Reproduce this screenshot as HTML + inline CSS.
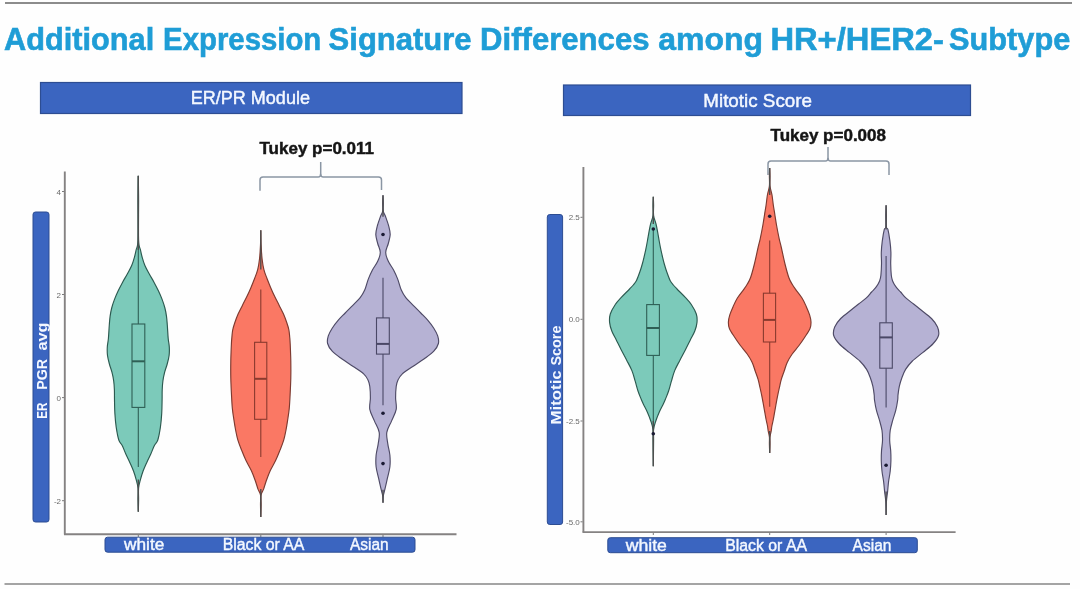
<!DOCTYPE html>
<html><head><meta charset="utf-8"><style>
html,body{margin:0;padding:0;background:#fff;width:1080px;height:589px;overflow:hidden}
svg{display:block;filter:blur(0.45px)}
text{font-family:"Liberation Sans",sans-serif}
</style></head><body>
<svg width="1080" height="589" viewBox="0 0 1080 589">
<rect width="1080" height="589" fill="#fefefe"/>
<line x1="5" y1="3" x2="1072" y2="3" stroke="#8c8c8c" stroke-width="2"/>
<line x1="4.5" y1="584" x2="1070" y2="584" stroke="#a4a4a4" stroke-width="2.2"/>
<g font-size="31" font-weight="bold" fill="#1f9dd6" stroke="#1f9dd6" stroke-width="0.6"><text x="4.1" y="49.8" textLength="150.1" lengthAdjust="spacingAndGlyphs">Additional</text><text x="163.1" y="49.8" textLength="158.2" lengthAdjust="spacingAndGlyphs">Expression</text><text x="328.6" y="49.8" textLength="143.0" lengthAdjust="spacingAndGlyphs">Signature</text><text x="480.1" y="49.8" textLength="169.4" lengthAdjust="spacingAndGlyphs">Differences</text><text x="658.3" y="49.8" textLength="104.6" lengthAdjust="spacingAndGlyphs">among</text><text x="770.4" y="49.8" textLength="173.5" lengthAdjust="spacingAndGlyphs">HR+/HER2-</text><text x="949.1" y="49.8" textLength="121.2" lengthAdjust="spacingAndGlyphs">Subtype</text></g>

<rect x="40.5" y="82.5" width="421.5" height="31" fill="#3b65c0" stroke="#2d4d92" stroke-width="1.2"/>
<text x="190.7" y="103.7" font-size="18" fill="#f4f8ff" stroke="#f4f8ff" stroke-width="0.45" textLength="119.3" lengthAdjust="spacingAndGlyphs">ER/PR Module</text>
<rect x="563.5" y="85" width="407" height="30.5" fill="#3b65c0" stroke="#2d4d92" stroke-width="1.2"/>
<text x="703.3" y="107" font-size="18.5" fill="#f4f8ff" stroke="#f4f8ff" stroke-width="0.45" textLength="108.7" lengthAdjust="spacingAndGlyphs">Mitotic Score</text>

<text x="259.5" y="154" font-size="16.5" font-weight="bold" fill="#151515" stroke="#151515" stroke-width="0.45" textLength="114.5" lengthAdjust="spacingAndGlyphs">Tukey p=0.011</text>
<text x="770.5" y="141.3" font-size="16.5" font-weight="bold" fill="#151515" stroke="#151515" stroke-width="0.45" textLength="115.5" lengthAdjust="spacingAndGlyphs">Tukey p=0.008</text>

<path d="M260,190.7 L260,180 Q260,177 263,177 L318.2,177 Q320.7,177 320.7,173.5 L320.7,162 M320.7,173.5 Q320.7,177 323.2,177 L378.5,177 Q381.5,177 381.5,180 L381.5,190" fill="none" stroke="#8a96a4" stroke-width="1.5"/>
<path d="M768,175 L768,164 Q768,161 771,161 L825.5,161 Q828,161 828,157.5 L828,147 M828,157.5 Q828,161 830.5,161 L886,161 Q889,161 889,164 L889,175" fill="none" stroke="#8a96a4" stroke-width="1.5"/>

<!-- plot1 axes -->
<line x1="64.8" y1="171.5" x2="64.8" y2="534.5" stroke="#858282" stroke-width="1.9"/>
<line x1="64" y1="534.2" x2="456.5" y2="534.2" stroke="#858282" stroke-width="1.9"/>
<g stroke="#7a7a7a" stroke-width="1"><line x1="62" y1="191.5" x2="64" y2="191.5"/><line x1="62" y1="294.5" x2="64" y2="294.5"/><line x1="62" y1="397.6" x2="64" y2="397.6"/><line x1="62" y1="500.7" x2="64" y2="500.7"/>
<line x1="138.3" y1="535" x2="138.3" y2="537"/><line x1="260.8" y1="535" x2="260.8" y2="537"/><line x1="383" y1="535" x2="383" y2="537"/></g>
<g font-size="8" fill="#6a6a6a" text-anchor="end"><text x="61" y="194.5">4</text><text x="61" y="297.5">2</text><text x="61" y="400.6">0</text><text x="61" y="503.7">-2</text></g>
<rect x="33" y="212" width="16" height="310" rx="2.5" fill="#3b65c0" stroke="#2d4d92" stroke-width="1"/>
<g transform="translate(47.4,0) rotate(-90)" font-size="15" font-weight="bold" fill="#f4f8ff"><text x="-418.7" y="0" textLength="16.2" lengthAdjust="spacingAndGlyphs">ER</text><text x="-389.8" y="0" textLength="30.9" lengthAdjust="spacingAndGlyphs">PGR</text><text x="-350.5" y="0" textLength="28" lengthAdjust="spacingAndGlyphs">avg</text></g>
<rect x="105" y="537.2" width="310" height="15" rx="2.5" fill="#3b65c0" stroke="#2d4d92" stroke-width="1"/>
<g font-size="16" fill="#f4f8ff" stroke="#f4f8ff" stroke-width="0.4"><text x="124" y="550.4" textLength="40.3" lengthAdjust="spacingAndGlyphs">white</text><text x="222.7" y="550.4" textLength="81.7" lengthAdjust="spacingAndGlyphs">Black or AA</text><text x="350" y="550.4" textLength="38.6" lengthAdjust="spacingAndGlyphs">Asian</text></g>

<!-- plot2 axes -->
<line x1="583.4" y1="167" x2="583.4" y2="532.5" stroke="#858282" stroke-width="1.9"/>
<line x1="582.6" y1="532.1" x2="955.6" y2="532.1" stroke="#858282" stroke-width="1.9"/>
<g stroke="#7a7a7a" stroke-width="1"><line x1="580.5" y1="217.3" x2="582.6" y2="217.3"/><line x1="580.5" y1="319.3" x2="582.6" y2="319.3"/><line x1="580.5" y1="421" x2="582.6" y2="421"/><line x1="580.5" y1="521.8" x2="582.6" y2="521.8"/>
<line x1="653.3" y1="533" x2="653.3" y2="535"/><line x1="769.7" y1="533" x2="769.7" y2="535"/><line x1="886.1" y1="533" x2="886.1" y2="535"/></g>
<g font-size="8" fill="#6a6a6a" text-anchor="end"><text x="579.8" y="220.3">2.5</text><text x="579.8" y="322.3">0.0</text><text x="579.8" y="424">-2.5</text><text x="579.8" y="524.8">-5.0</text></g>
<rect x="547.3" y="214.5" width="15.3" height="310" rx="2.5" fill="#3b65c0" stroke="#2d4d92" stroke-width="1"/>
<g transform="translate(561.2,0) rotate(-90)" font-size="15" font-weight="bold" fill="#f4f8ff"><text x="-424.5" y="0" textLength="54.2" lengthAdjust="spacingAndGlyphs">Mitotic</text><text x="-365.5" y="0" textLength="39.9" lengthAdjust="spacingAndGlyphs">Score</text></g>
<rect x="607.8" y="537.7" width="309.5" height="15" rx="2.5" fill="#3b65c0" stroke="#2d4d92" stroke-width="1"/>
<g font-size="16" fill="#f4f8ff" stroke="#f4f8ff" stroke-width="0.4"><text x="625.7" y="550.8" textLength="41.2" lengthAdjust="spacingAndGlyphs">white</text><text x="725.2" y="550.8" textLength="81.8" lengthAdjust="spacingAndGlyphs">Black or AA</text><text x="852.6" y="550.8" textLength="38.8" lengthAdjust="spacingAndGlyphs">Asian</text></g>

<path d="M138.30,175.70 C138.35,179.75 138.55,189.28 138.60,200.00 C138.65,210.72 138.28,231.67 138.60,240.00 C138.92,248.33 139.92,247.17 140.50,250.00 C141.08,252.83 141.37,254.42 142.10,257.00 C142.83,259.58 143.70,262.67 144.90,265.50 C146.10,268.33 147.77,271.18 149.30,274.00 C150.83,276.82 152.57,279.57 154.10,282.40 C155.63,285.23 157.17,288.17 158.50,291.00 C159.83,293.83 161.03,296.57 162.10,299.40 C163.17,302.23 164.17,305.17 164.90,308.00 C165.63,310.83 166.10,313.57 166.50,316.40 C166.90,319.23 167.02,321.32 167.30,325.00 C167.58,328.68 167.87,334.83 168.20,338.50 C168.53,342.17 169.15,344.17 169.30,347.00 C169.45,349.83 169.45,352.67 169.10,355.50 C168.75,358.33 167.95,361.18 167.20,364.00 C166.45,366.82 165.32,369.57 164.60,372.40 C163.88,375.23 163.30,378.07 162.90,381.00 C162.50,383.93 162.33,386.83 162.20,390.00 C162.07,393.17 162.18,396.07 162.10,400.00 C162.02,403.93 161.98,409.07 161.70,413.60 C161.42,418.13 161.05,422.80 160.40,427.20 C159.75,431.60 158.80,436.95 157.80,440.00 C156.80,443.05 155.57,443.17 154.40,445.50 C153.23,447.83 152.07,451.18 150.80,454.00 C149.53,456.82 148.08,459.57 146.80,462.40 C145.52,465.23 144.15,468.17 143.10,471.00 C142.05,473.83 141.25,476.57 140.50,479.40 C139.75,482.23 138.92,484.57 138.60,488.00 C138.28,491.43 138.65,496.05 138.60,500.00 C138.55,503.95 138.35,509.75 138.30,511.70 C138.25,509.75 138.05,503.95 138.00,500.00 C137.95,496.05 138.32,491.43 138.00,488.00 C137.68,484.57 136.85,482.23 136.10,479.40 C135.35,476.57 134.55,473.83 133.50,471.00 C132.45,468.17 131.08,465.23 129.80,462.40 C128.52,459.57 127.07,456.82 125.80,454.00 C124.53,451.18 123.37,447.83 122.20,445.50 C121.03,443.17 119.80,443.05 118.80,440.00 C117.80,436.95 116.85,431.60 116.20,427.20 C115.55,422.80 115.18,418.13 114.90,413.60 C114.62,409.07 114.58,403.93 114.50,400.00 C114.42,396.07 114.53,393.17 114.40,390.00 C114.27,386.83 114.10,383.93 113.70,381.00 C113.30,378.07 112.72,375.23 112.00,372.40 C111.28,369.57 110.15,366.82 109.40,364.00 C108.65,361.18 107.85,358.33 107.50,355.50 C107.15,352.67 107.15,349.83 107.30,347.00 C107.45,344.17 108.07,342.17 108.40,338.50 C108.73,334.83 109.02,328.68 109.30,325.00 C109.58,321.32 109.70,319.23 110.10,316.40 C110.50,313.57 110.97,310.83 111.70,308.00 C112.43,305.17 113.43,302.23 114.50,299.40 C115.57,296.57 116.77,293.83 118.10,291.00 C119.43,288.17 120.97,285.23 122.50,282.40 C124.03,279.57 125.77,276.82 127.30,274.00 C128.83,271.18 130.50,268.33 131.70,265.50 C132.90,262.67 133.77,259.58 134.50,257.00 C135.23,254.42 135.52,252.83 136.10,250.00 C136.68,247.17 137.68,248.33 138.00,240.00 C138.32,231.67 137.95,210.72 138.00,200.00 C138.05,189.28 138.25,179.75 138.30,175.70 Z" fill="#7ccaba" stroke="#2c5a50" stroke-width="1.15"/>
<line x1="138.3" y1="176" x2="138.3" y2="324" stroke="#2f5f55" stroke-width="1.1"/>
<line x1="138.3" y1="407.4" x2="138.3" y2="467" stroke="#2f5f55" stroke-width="1.1"/>
<rect x="132" y="324" width="12.80" height="83.40" fill="none" stroke="#2f5f55" stroke-width="1.1"/>
<line x1="132" y1="361.3" x2="144.8" y2="361.3" stroke="#2f5f55" stroke-width="2"/>
<line x1="138.3" y1="175.7" x2="138.3" y2="250" stroke="#4e4e4e" stroke-width="1.4"/>
<line x1="138.3" y1="479.4" x2="138.3" y2="511.7" stroke="#4e4e4e" stroke-width="1.4"/>
<path d="M260.80,230.20 C260.85,232.67 260.88,240.20 261.10,245.00 C261.32,249.80 261.63,254.90 262.10,259.00 C262.57,263.10 263.08,266.35 263.90,269.60 C264.72,272.85 265.88,275.53 267.00,278.50 C268.12,281.47 269.33,284.43 270.60,287.40 C271.87,290.37 273.18,293.33 274.60,296.30 C276.02,299.27 277.62,302.23 279.10,305.20 C280.58,308.17 282.20,311.13 283.50,314.10 C284.80,317.07 286.00,320.35 286.90,323.00 C287.80,325.65 288.43,327.67 288.90,330.00 C289.37,332.33 289.48,334.67 289.70,337.00 C289.92,339.33 290.02,340.00 290.20,344.00 C290.38,348.00 290.70,355.33 290.80,361.00 C290.90,366.67 290.92,372.33 290.80,378.00 C290.68,383.67 290.36,389.92 290.10,395.00 C289.84,400.08 289.67,404.27 289.25,408.50 C288.83,412.73 288.14,416.82 287.60,420.40 C287.06,423.98 286.65,426.70 286.00,430.00 C285.35,433.30 284.72,436.80 283.70,440.20 C282.68,443.60 281.25,447.00 279.90,450.40 C278.55,453.80 277.22,457.20 275.60,460.60 C273.98,464.00 271.77,467.40 270.20,470.80 C268.63,474.20 267.30,477.95 266.20,481.00 C265.10,484.05 264.45,486.77 263.60,489.10 C262.75,491.43 261.52,492.35 261.10,495.00 C260.68,497.65 261.15,501.33 261.10,505.00 C261.05,508.67 260.85,515.00 260.80,517.00 C260.75,515.00 260.55,508.67 260.50,505.00 C260.45,501.33 260.92,497.65 260.50,495.00 C260.08,492.35 258.85,491.43 258.00,489.10 C257.15,486.77 256.50,484.05 255.40,481.00 C254.30,477.95 252.97,474.20 251.40,470.80 C249.83,467.40 247.62,464.00 246.00,460.60 C244.38,457.20 243.05,453.80 241.70,450.40 C240.35,447.00 238.92,443.60 237.90,440.20 C236.88,436.80 236.25,433.30 235.60,430.00 C234.95,426.70 234.54,423.98 234.00,420.40 C233.46,416.82 232.77,412.73 232.35,408.50 C231.93,404.27 231.76,400.08 231.50,395.00 C231.24,389.92 230.92,383.67 230.80,378.00 C230.68,372.33 230.70,366.67 230.80,361.00 C230.90,355.33 231.22,348.00 231.40,344.00 C231.58,340.00 231.68,339.33 231.90,337.00 C232.12,334.67 232.23,332.33 232.70,330.00 C233.17,327.67 233.80,325.65 234.70,323.00 C235.60,320.35 236.80,317.07 238.10,314.10 C239.40,311.13 241.02,308.17 242.50,305.20 C243.98,302.23 245.58,299.27 247.00,296.30 C248.42,293.33 249.73,290.37 251.00,287.40 C252.27,284.43 253.48,281.47 254.60,278.50 C255.72,275.53 256.88,272.85 257.70,269.60 C258.52,266.35 259.03,263.10 259.50,259.00 C259.97,254.90 260.28,249.80 260.50,245.00 C260.72,240.20 260.75,232.67 260.80,230.20 Z" fill="#fa7864" stroke="#7d3a30" stroke-width="1.15"/>
<line x1="260.8" y1="289.6" x2="260.8" y2="342.3" stroke="#8a3a2e" stroke-width="1.1"/>
<line x1="260.8" y1="419.3" x2="260.8" y2="457" stroke="#8a3a2e" stroke-width="1.1"/>
<rect x="254.6" y="342.3" width="12.20" height="77.00" fill="none" stroke="#8a3a2e" stroke-width="1.1"/>
<line x1="254.6" y1="378.8" x2="266.8" y2="378.8" stroke="#8a3a2e" stroke-width="2"/>
<line x1="260.8" y1="230.2" x2="260.8" y2="269.6" stroke="#4e4e4e" stroke-width="1.4"/>
<line x1="260.8" y1="489.1" x2="260.8" y2="517" stroke="#4e4e4e" stroke-width="1.4"/>
<path d="M383.00,195.20 C383.05,196.50 383.25,200.37 383.30,203.00 C383.35,205.63 382.92,208.72 383.30,211.00 C383.68,213.28 384.72,214.25 385.60,216.70 C386.48,219.15 387.83,222.72 388.60,225.70 C389.37,228.68 390.25,231.63 390.20,234.60 C390.15,237.57 389.05,240.53 388.30,243.50 C387.55,246.47 385.70,249.43 385.70,252.40 C385.70,255.37 386.97,258.33 388.30,261.30 C389.63,264.27 392.13,267.23 393.70,270.20 C395.27,273.17 396.43,275.80 397.70,279.10 C398.97,282.40 399.95,286.92 401.30,290.00 C402.65,293.08 403.82,295.05 405.80,297.60 C407.78,300.15 410.70,302.73 413.20,305.30 C415.70,307.87 418.32,310.45 420.80,313.00 C423.28,315.55 425.93,318.07 428.10,320.60 C430.27,323.13 432.20,325.65 433.80,328.20 C435.40,330.75 436.93,333.35 437.70,335.90 C438.47,338.45 439.05,340.95 438.40,343.50 C437.75,346.05 436.15,348.65 433.80,351.20 C431.45,353.75 427.80,356.25 424.30,358.80 C420.80,361.35 416.50,363.95 412.80,366.50 C409.10,369.05 404.57,371.85 402.10,374.10 C399.63,376.35 398.98,377.93 398.00,380.00 C397.02,382.07 396.60,383.50 396.20,386.50 C395.80,389.50 395.60,394.18 395.60,398.00 C395.60,401.82 396.87,405.58 396.20,409.40 C395.53,413.22 393.17,417.08 391.60,420.90 C390.03,424.72 387.43,428.48 386.80,432.30 C386.17,436.12 387.28,439.97 387.80,443.80 C388.32,447.63 389.55,451.48 389.90,455.30 C390.25,459.12 390.32,462.88 389.90,466.70 C389.48,470.52 388.25,474.37 387.40,478.20 C386.55,482.03 385.48,486.73 384.80,489.70 C384.12,492.67 383.60,493.82 383.30,496.00 C383.00,498.18 383.05,501.67 383.00,502.80 C382.95,501.67 383.00,498.18 382.70,496.00 C382.40,493.82 381.88,492.67 381.20,489.70 C380.52,486.73 379.45,482.03 378.60,478.20 C377.75,474.37 376.52,470.52 376.10,466.70 C375.68,462.88 375.75,459.12 376.10,455.30 C376.45,451.48 377.68,447.63 378.20,443.80 C378.72,439.97 379.83,436.12 379.20,432.30 C378.57,428.48 375.97,424.72 374.40,420.90 C372.83,417.08 370.47,413.22 369.80,409.40 C369.13,405.58 370.40,401.82 370.40,398.00 C370.40,394.18 370.20,389.50 369.80,386.50 C369.40,383.50 368.98,382.07 368.00,380.00 C367.02,377.93 366.37,376.35 363.90,374.10 C361.43,371.85 356.90,369.05 353.20,366.50 C349.50,363.95 345.20,361.35 341.70,358.80 C338.20,356.25 334.55,353.75 332.20,351.20 C329.85,348.65 328.25,346.05 327.60,343.50 C326.95,340.95 327.53,338.45 328.30,335.90 C329.07,333.35 330.60,330.75 332.20,328.20 C333.80,325.65 335.73,323.13 337.90,320.60 C340.07,318.07 342.72,315.55 345.20,313.00 C347.68,310.45 350.30,307.87 352.80,305.30 C355.30,302.73 358.22,300.15 360.20,297.60 C362.18,295.05 363.35,293.08 364.70,290.00 C366.05,286.92 367.03,282.40 368.30,279.10 C369.57,275.80 370.73,273.17 372.30,270.20 C373.87,267.23 376.37,264.27 377.70,261.30 C379.03,258.33 380.30,255.37 380.30,252.40 C380.30,249.43 378.45,246.47 377.70,243.50 C376.95,240.53 375.85,237.57 375.80,234.60 C375.75,231.63 376.63,228.68 377.40,225.70 C378.17,222.72 379.52,219.15 380.40,216.70 C381.28,214.25 382.32,213.28 382.70,211.00 C383.08,208.72 382.65,205.63 382.70,203.00 C382.75,200.37 382.95,196.50 383.00,195.20 Z" fill="#b6b2d4" stroke="#4e4a66" stroke-width="1.15"/>
<line x1="383" y1="277.7" x2="383" y2="317.9" stroke="#4a4866" stroke-width="1.1"/>
<line x1="383" y1="354.1" x2="383" y2="405.2" stroke="#4a4866" stroke-width="1.1"/>
<rect x="376.5" y="317.9" width="12.80" height="36.20" fill="none" stroke="#4a4866" stroke-width="1.1"/>
<line x1="376.5" y1="343.9" x2="389.3" y2="343.9" stroke="#4a4866" stroke-width="2"/>
<line x1="383" y1="195.2" x2="383" y2="216.7" stroke="#4e4e4e" stroke-width="1.4"/>
<line x1="383" y1="489.7" x2="383" y2="502.8" stroke="#4e4e4e" stroke-width="1.4"/>
<circle cx="383" cy="234.5" r="1.8" fill="#1a1a33"/>
<circle cx="383" cy="413.2" r="1.8" fill="#1a1a33"/>
<circle cx="383" cy="463.6" r="1.8" fill="#1a1a33"/>
<path d="M653.30,196.70 C653.35,198.08 653.55,201.87 653.60,205.00 C653.65,208.13 653.20,212.33 653.60,215.50 C654.00,218.67 655.32,221.18 656.00,224.00 C656.68,226.82 657.17,229.57 657.70,232.40 C658.23,235.23 658.68,238.17 659.20,241.00 C659.72,243.83 660.28,246.90 660.80,249.40 C661.32,251.90 661.72,253.57 662.30,256.00 C662.88,258.43 663.55,261.33 664.30,264.00 C665.05,266.67 665.83,269.25 666.80,272.00 C667.77,274.75 669.02,278.33 670.10,280.50 C671.18,282.67 672.15,283.58 673.30,285.00 C674.45,286.42 675.00,286.93 677.00,289.00 C679.00,291.07 682.92,294.82 685.30,297.40 C687.68,299.98 689.47,301.73 691.30,304.50 C693.13,307.27 695.35,311.02 696.30,314.00 C697.25,316.98 697.25,319.57 697.00,322.40 C696.75,325.23 695.92,328.07 694.80,331.00 C693.68,333.93 691.88,336.83 690.30,340.00 C688.72,343.17 687.05,346.60 685.30,350.00 C683.55,353.40 681.57,356.97 679.80,360.40 C678.03,363.83 676.08,367.20 674.70,370.60 C673.32,374.00 672.52,377.40 671.50,380.80 C670.48,384.20 669.60,387.97 668.60,391.00 C667.60,394.03 666.38,396.83 665.50,399.00 C664.62,401.17 664.37,401.77 663.30,404.00 C662.23,406.23 660.35,409.57 659.10,412.40 C657.85,415.23 656.72,418.17 655.80,421.00 C654.88,423.83 653.97,426.23 653.60,429.40 C653.23,432.57 653.65,433.87 653.60,440.00 C653.55,446.13 653.35,461.83 653.30,466.20 C653.25,461.83 653.05,446.13 653.00,440.00 C652.95,433.87 653.37,432.57 653.00,429.40 C652.63,426.23 651.72,423.83 650.80,421.00 C649.88,418.17 648.75,415.23 647.50,412.40 C646.25,409.57 644.37,406.23 643.30,404.00 C642.23,401.77 641.98,401.17 641.10,399.00 C640.22,396.83 639.00,394.03 638.00,391.00 C637.00,387.97 636.12,384.20 635.10,380.80 C634.08,377.40 633.28,374.00 631.90,370.60 C630.52,367.20 628.57,363.83 626.80,360.40 C625.03,356.97 623.05,353.40 621.30,350.00 C619.55,346.60 617.88,343.17 616.30,340.00 C614.72,336.83 612.92,333.93 611.80,331.00 C610.68,328.07 609.85,325.23 609.60,322.40 C609.35,319.57 609.35,316.98 610.30,314.00 C611.25,311.02 613.47,307.27 615.30,304.50 C617.13,301.73 618.92,299.98 621.30,297.40 C623.68,294.82 627.60,291.07 629.60,289.00 C631.60,286.93 632.15,286.42 633.30,285.00 C634.45,283.58 635.42,282.67 636.50,280.50 C637.58,278.33 638.83,274.75 639.80,272.00 C640.77,269.25 641.55,266.67 642.30,264.00 C643.05,261.33 643.72,258.43 644.30,256.00 C644.88,253.57 645.28,251.90 645.80,249.40 C646.32,246.90 646.88,243.83 647.40,241.00 C647.92,238.17 648.37,235.23 648.90,232.40 C649.43,229.57 649.92,226.82 650.60,224.00 C651.28,221.18 652.60,218.67 653.00,215.50 C653.40,212.33 652.95,208.13 653.00,205.00 C653.05,201.87 653.25,198.08 653.30,196.70 Z" fill="#7ccaba" stroke="#2c5a50" stroke-width="1.15"/>
<line x1="653.3" y1="229" x2="653.3" y2="304.6" stroke="#2f5f55" stroke-width="1.1"/>
<line x1="653.3" y1="355.4" x2="653.3" y2="433.7" stroke="#2f5f55" stroke-width="1.1"/>
<rect x="646.7" y="304.6" width="12.70" height="50.80" fill="none" stroke="#2f5f55" stroke-width="1.1"/>
<line x1="646.7" y1="328" x2="659.4" y2="328" stroke="#2f5f55" stroke-width="2"/>
<line x1="653.3" y1="196.7" x2="653.3" y2="224" stroke="#4e4e4e" stroke-width="1.4"/>
<line x1="653.3" y1="421" x2="653.3" y2="466.2" stroke="#4e4e4e" stroke-width="1.4"/>
<circle cx="653.3" cy="229" r="1.8" fill="#1a1a33"/>
<circle cx="653.3" cy="433.7" r="1.8" fill="#1a1a33"/>
<path d="M769.70,168.00 C769.75,169.33 769.95,173.00 770.00,176.00 C770.05,179.00 769.67,182.83 770.00,186.00 C770.33,189.17 771.45,191.83 772.00,195.00 C772.55,198.17 772.83,201.78 773.30,205.00 C773.77,208.22 774.27,210.97 774.80,214.30 C775.33,217.63 775.77,220.92 776.50,225.00 C777.23,229.08 778.42,235.13 779.20,238.80 C779.98,242.47 780.23,242.80 781.20,247.00 C782.17,251.20 783.73,258.92 785.00,264.00 C786.27,269.08 787.60,274.12 788.80,277.50 C790.00,280.88 791.07,282.32 792.20,284.30 C793.33,286.28 793.97,287.12 795.60,289.40 C797.23,291.68 800.23,295.17 802.00,298.00 C803.77,300.83 804.93,303.58 806.20,306.40 C807.47,309.22 808.80,312.30 809.60,314.90 C810.40,317.50 810.93,319.73 811.00,322.00 C811.07,324.27 811.02,326.00 810.00,328.50 C808.98,331.00 806.73,334.17 804.90,337.00 C803.07,339.83 801.12,342.67 799.00,345.50 C796.88,348.33 794.17,351.18 792.20,354.00 C790.23,356.82 788.53,359.57 787.20,362.40 C785.87,365.23 785.18,368.17 784.20,371.00 C783.22,373.83 782.12,376.57 781.30,379.40 C780.48,382.23 779.93,385.17 779.30,388.00 C778.67,390.83 778.07,393.57 777.50,396.40 C776.93,399.23 776.42,402.17 775.90,405.00 C775.38,407.83 774.85,410.90 774.40,413.40 C773.95,415.90 773.62,417.90 773.20,420.00 C772.78,422.10 772.23,424.17 771.90,426.00 C771.57,427.83 771.52,429.17 771.20,431.00 C770.88,432.83 770.20,434.83 770.00,437.00 C769.80,439.17 770.05,441.33 770.00,444.00 C769.95,446.67 769.75,451.50 769.70,453.00 C769.65,451.50 769.45,446.67 769.40,444.00 C769.35,441.33 769.60,439.17 769.40,437.00 C769.20,434.83 768.52,432.83 768.20,431.00 C767.88,429.17 767.83,427.83 767.50,426.00 C767.17,424.17 766.62,422.10 766.20,420.00 C765.78,417.90 765.45,415.90 765.00,413.40 C764.55,410.90 764.02,407.83 763.50,405.00 C762.98,402.17 762.47,399.23 761.90,396.40 C761.33,393.57 760.73,390.83 760.10,388.00 C759.47,385.17 758.92,382.23 758.10,379.40 C757.28,376.57 756.18,373.83 755.20,371.00 C754.22,368.17 753.53,365.23 752.20,362.40 C750.87,359.57 749.17,356.82 747.20,354.00 C745.23,351.18 742.52,348.33 740.40,345.50 C738.28,342.67 736.33,339.83 734.50,337.00 C732.67,334.17 730.42,331.00 729.40,328.50 C728.38,326.00 728.33,324.27 728.40,322.00 C728.47,319.73 729.00,317.50 729.80,314.90 C730.60,312.30 731.93,309.22 733.20,306.40 C734.47,303.58 735.63,300.83 737.40,298.00 C739.17,295.17 742.17,291.68 743.80,289.40 C745.43,287.12 746.07,286.28 747.20,284.30 C748.33,282.32 749.40,280.88 750.60,277.50 C751.80,274.12 753.13,269.08 754.40,264.00 C755.67,258.92 757.23,251.20 758.20,247.00 C759.17,242.80 759.42,242.47 760.20,238.80 C760.98,235.13 762.17,229.08 762.90,225.00 C763.63,220.92 764.07,217.63 764.60,214.30 C765.13,210.97 765.63,208.22 766.10,205.00 C766.57,201.78 766.85,198.17 767.40,195.00 C767.95,191.83 769.07,189.17 769.40,186.00 C769.73,182.83 769.35,179.00 769.40,176.00 C769.45,173.00 769.65,169.33 769.70,168.00 Z" fill="#fa7864" stroke="#7d3a30" stroke-width="1.15"/>
<line x1="769.7" y1="240.6" x2="769.7" y2="293.2" stroke="#8a3a2e" stroke-width="1.1"/>
<line x1="769.7" y1="342" x2="769.7" y2="406.7" stroke="#8a3a2e" stroke-width="1.1"/>
<rect x="763.4" y="293.2" width="12.20" height="48.80" fill="none" stroke="#8a3a2e" stroke-width="1.1"/>
<line x1="763.4" y1="319.9" x2="775.6" y2="319.9" stroke="#8a3a2e" stroke-width="2"/>
<line x1="769.7" y1="168" x2="769.7" y2="195" stroke="#4e4e4e" stroke-width="1.4"/>
<line x1="769.7" y1="431" x2="769.7" y2="453" stroke="#4e4e4e" stroke-width="1.4"/>
<circle cx="769.7" cy="216.3" r="1.8" fill="#1a1a33"/>
<path d="M886.10,205.30 C886.15,206.92 886.35,211.38 886.40,215.00 C886.45,218.62 886.15,224.60 886.40,227.00 C886.65,229.40 887.32,227.08 887.90,229.40 C888.48,231.72 889.40,237.08 889.90,240.90 C890.40,244.72 890.77,248.48 890.90,252.30 C891.03,256.12 890.63,259.97 890.70,263.80 C890.77,267.63 890.98,272.43 891.30,275.30 C891.62,278.17 891.85,279.10 892.60,281.00 C893.35,282.90 894.47,284.87 895.80,286.70 C897.13,288.53 898.88,290.08 900.60,292.00 C902.32,293.92 903.93,296.20 906.10,298.20 C908.27,300.20 911.10,302.03 913.60,304.00 C916.10,305.97 918.12,307.58 921.10,310.00 C924.08,312.42 928.77,315.67 931.50,318.50 C934.23,321.33 936.33,324.17 937.50,327.00 C938.67,329.83 939.28,332.67 938.50,335.50 C937.72,338.33 935.38,341.18 932.80,344.00 C930.22,346.82 926.40,349.57 923.00,352.40 C919.60,355.23 915.30,358.17 912.40,361.00 C909.50,363.83 907.37,366.57 905.60,369.40 C903.83,372.23 902.85,375.17 901.80,378.00 C900.75,380.83 899.93,383.57 899.30,386.40 C898.67,389.23 898.27,392.73 898.00,395.00 C897.73,397.27 898.07,397.47 897.70,400.00 C897.33,402.53 896.63,406.80 895.80,410.20 C894.97,413.60 893.63,417.02 892.70,420.40 C891.77,423.78 890.70,427.12 890.20,430.50 C889.70,433.88 889.62,437.30 889.70,440.70 C889.78,444.10 890.50,447.50 890.70,450.90 C890.90,454.30 890.98,457.70 890.90,461.10 C890.82,464.50 890.58,467.90 890.20,471.30 C889.82,474.70 889.03,478.12 888.60,481.50 C888.17,484.88 887.97,488.22 887.60,491.60 C887.23,494.98 886.65,497.90 886.40,501.80 C886.15,505.70 886.15,512.80 886.10,515.00 C886.05,512.80 886.05,505.70 885.80,501.80 C885.55,497.90 884.97,494.98 884.60,491.60 C884.23,488.22 884.03,484.88 883.60,481.50 C883.17,478.12 882.38,474.70 882.00,471.30 C881.62,467.90 881.38,464.50 881.30,461.10 C881.22,457.70 881.30,454.30 881.50,450.90 C881.70,447.50 882.42,444.10 882.50,440.70 C882.58,437.30 882.50,433.88 882.00,430.50 C881.50,427.12 880.43,423.78 879.50,420.40 C878.57,417.02 877.23,413.60 876.40,410.20 C875.57,406.80 874.87,402.53 874.50,400.00 C874.13,397.47 874.47,397.27 874.20,395.00 C873.93,392.73 873.53,389.23 872.90,386.40 C872.27,383.57 871.45,380.83 870.40,378.00 C869.35,375.17 868.37,372.23 866.60,369.40 C864.83,366.57 862.70,363.83 859.80,361.00 C856.90,358.17 852.60,355.23 849.20,352.40 C845.80,349.57 841.98,346.82 839.40,344.00 C836.82,341.18 834.48,338.33 833.70,335.50 C832.92,332.67 833.53,329.83 834.70,327.00 C835.87,324.17 837.97,321.33 840.70,318.50 C843.43,315.67 848.12,312.42 851.10,310.00 C854.08,307.58 856.10,305.97 858.60,304.00 C861.10,302.03 863.93,300.20 866.10,298.20 C868.27,296.20 869.88,293.92 871.60,292.00 C873.32,290.08 875.07,288.53 876.40,286.70 C877.73,284.87 878.85,282.90 879.60,281.00 C880.35,279.10 880.58,278.17 880.90,275.30 C881.22,272.43 881.43,267.63 881.50,263.80 C881.57,259.97 881.17,256.12 881.30,252.30 C881.43,248.48 881.80,244.72 882.30,240.90 C882.80,237.08 883.72,231.72 884.30,229.40 C884.88,227.08 885.55,229.40 885.80,227.00 C886.05,224.60 885.75,218.62 885.80,215.00 C885.85,211.38 886.05,206.92 886.10,205.30 Z" fill="#b6b2d4" stroke="#4e4a66" stroke-width="1.15"/>
<line x1="886.1" y1="256" x2="886.1" y2="322.8" stroke="#4a4866" stroke-width="1.1"/>
<line x1="886.1" y1="368.2" x2="886.1" y2="407.5" stroke="#4a4866" stroke-width="1.1"/>
<rect x="879.8" y="322.8" width="12.50" height="45.40" fill="none" stroke="#4a4866" stroke-width="1.1"/>
<line x1="879.8" y1="337.4" x2="892.3" y2="337.4" stroke="#4a4866" stroke-width="2"/>
<line x1="886.1" y1="205.3" x2="886.1" y2="229.4" stroke="#4e4e4e" stroke-width="1.4"/>
<line x1="886.1" y1="491.6" x2="886.1" y2="515" stroke="#4e4e4e" stroke-width="1.4"/>
<circle cx="886.1" cy="465.2" r="1.8" fill="#1a1a33"/>
</svg>
</body></html>
